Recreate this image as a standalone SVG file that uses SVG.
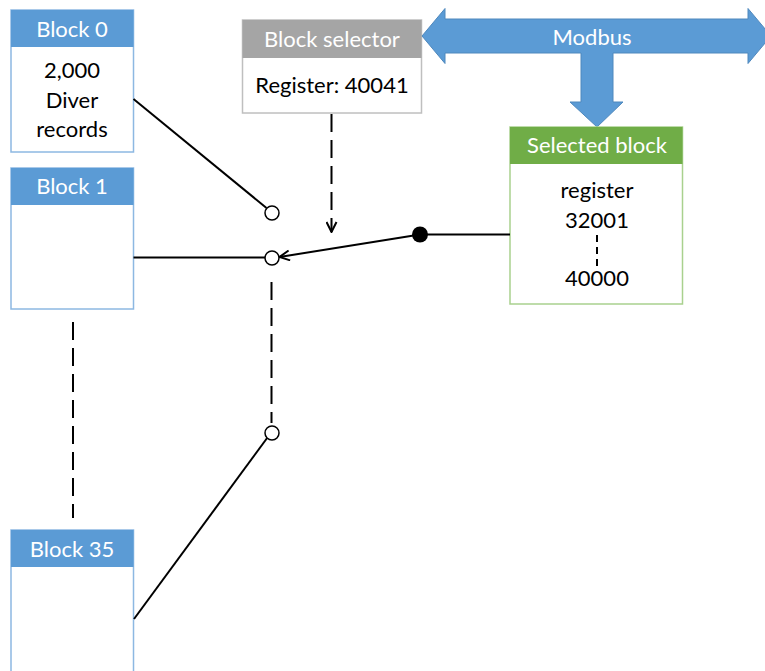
<svg xmlns="http://www.w3.org/2000/svg" width="765" height="671" viewBox="0 0 765 671">
  <defs>
    <style>
      text { font-family: Lato, "Liberation Sans", "DejaVu Sans", sans-serif; font-size: 22px; text-anchor: middle; }
      .hdr { fill: #ffffff; }
      .body { fill: #000000; }
      .blk-frame { fill: #ffffff; stroke: #8DB8E2; stroke-width: 1.5; }
      .blk-head { fill: #5B9BD5; }
      .sel-frame { fill: #ffffff; stroke: #BFBFBF; stroke-width: 1.5; }
      .sel-head { fill: #A5A5A5; }
      .out-frame { fill: #ffffff; stroke: #A9D18E; stroke-width: 1.5; }
      .out-head { fill: #70AD47; }
      .wire { fill: none; stroke: #000000; stroke-width: 2; }
      .dash { fill: none; stroke: #000000; stroke-width: 2; stroke-dasharray: 18 8; }
      .contact { fill: #ffffff; stroke: #000000; stroke-width: 1.5; }
    </style>
    <marker id="open-arrow" viewBox="0 0 12 12" refX="11" refY="6" markerWidth="12" markerHeight="12" markerUnits="userSpaceOnUse" orient="auto">
      <path d="M1,1 L11,6 L1,11" fill="none" stroke="#000000" stroke-width="2"/>
    </marker>
  </defs>

  <!-- Block 0 -->
  <g id="block0">
    <rect class="blk-frame" x="11" y="10" width="122.5" height="142"/>
    <rect class="blk-head" x="11" y="10" width="122.5" height="37"/>
    <text class="hdr" x="72" y="37">Block 0</text>
    <text class="body" x="72" y="78">2,000</text>
    <text class="body" x="72" y="108">Diver</text>
    <text class="body" x="72" y="137">records</text>
  </g>

  <!-- Block 1 -->
  <g id="block1">
    <rect class="blk-frame" x="11" y="168" width="122.5" height="141"/>
    <rect class="blk-head" x="11" y="168" width="122.5" height="37"/>
    <text class="hdr" x="72" y="194">Block 1</text>
  </g>

  <!-- Block 35 -->
  <g id="block35">
    <rect class="blk-frame" x="11" y="530" width="122.5" height="150"/>
    <rect class="blk-head" x="11" y="530" width="122.5" height="37"/>
    <text class="hdr" x="72" y="557">Block 35</text>
  </g>

  <!-- Block selector register -->
  <g id="block-selector">
    <rect class="sel-frame" x="242.5" y="20" width="179" height="93"/>
    <rect class="sel-head" x="242.5" y="20" width="179" height="38"/>
    <text class="hdr" x="332" y="47">Block selector</text>
    <text class="body" x="332" y="93">Register: 40041</text>
  </g>

  <!-- Modbus bus -->
  <g id="modbus">
    <polygon points="422,36 445,8.5 445,19 748,19 748,8.5 771,36 748,63.5 748,53 613,53 613,102 623,102 597,127 570,102 581,102 581,53 445,53 445,63.5" fill="#5B9BD5" stroke="#4F88BD" stroke-width="1"/>
    <text class="hdr" x="592" y="45">Modbus</text>
  </g>

  <!-- Selected block window -->
  <g id="selected-block">
    <rect class="out-frame" x="510" y="127" width="172.5" height="177"/>
    <rect class="out-head" x="510" y="127" width="172.5" height="37"/>
    <text class="hdr" x="597" y="153">Selected block</text>
    <text class="body" x="597" y="198">register</text>
    <text class="body" x="597" y="228">32001</text>
    <line x1="597" y1="235" x2="597" y2="266" stroke="#000000" stroke-width="2" stroke-dasharray="7 5"/>
    <text class="body" x="597" y="286">40000</text>
  </g>

  <!-- Connectors -->
  <g id="connectors">
    <line class="wire" x1="133.5" y1="99" x2="266.5" y2="208"/>
    <line class="wire" x1="133.5" y1="257.5" x2="265" y2="257.5"/>
    <line class="wire" x1="134" y1="619" x2="267.5" y2="437.5"/>
    <line class="dash" x1="73" y1="322" x2="73" y2="518"/>
    <line class="dash" x1="271.5" y1="282" x2="271.5" y2="423"/>
    <line class="dash" x1="331.5" y1="114" x2="331.5" y2="232" marker-end="url(#open-arrow)"/>
    <line class="wire" x1="420" y1="234.5" x2="279.5" y2="257" marker-end="url(#open-arrow)"/>
    <line class="wire" x1="420" y1="234.5" x2="510" y2="234.5"/>
  </g>

  <!-- Switch contacts -->
  <g id="switch">
    <circle class="contact" cx="272" cy="213" r="7"/>
    <circle class="contact" cx="272" cy="258" r="7"/>
    <circle class="contact" cx="272" cy="433" r="7"/>
    <circle cx="420" cy="234.5" r="8" fill="#000000"/>
  </g>
</svg>
